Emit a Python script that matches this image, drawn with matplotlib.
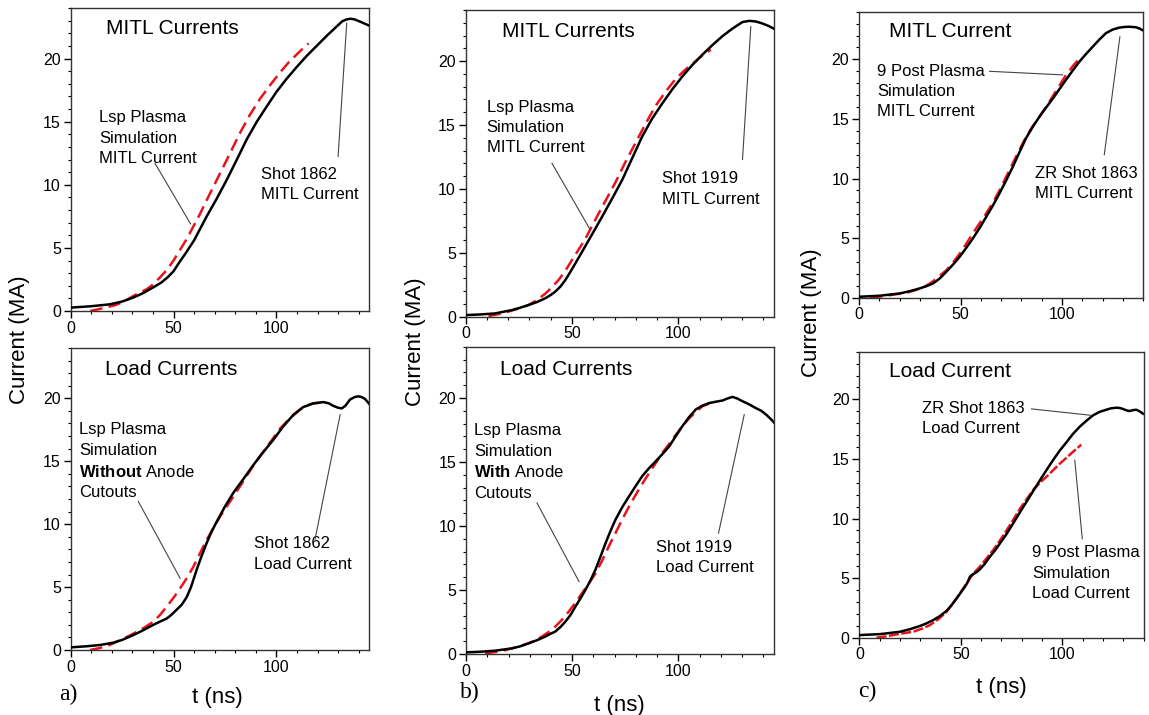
import matplotlib
matplotlib.use('Agg')
import matplotlib.pyplot as plt
from matplotlib.ticker import MultipleLocator

plt.rcParams['font.family'] = ['Liberation Sans', 'DejaVu Sans']
plt.rcParams['mathtext.fontset'] = 'custom'
plt.rcParams['mathtext.rm'] = 'Liberation Sans'
plt.rcParams['mathtext.bf'] = 'Liberation Sans:bold'

# a) top - MITL currents, shot 1862
a_mitl_shot_t = [0, 10, 19, 25, 30.5, 35, 40, 44, 47, 50, 53, 56, 60, 66, 71, 75.9, 80.8, 85.6, 90.5, 95.3, 100,
                 105, 110, 114.7, 119.6, 124.5, 129.4, 132, 134.2, 136, 138, 141, 145.2]
a_mitl_shot_i = [0.27, 0.38, 0.53, 0.75, 1.07, 1.4, 1.86, 2.25, 2.65, 3.15, 3.9, 4.6, 5.6, 7.46, 8.9, 10.4, 12.0,
                 13.6, 15.0, 16.2, 17.35, 18.4, 19.35, 20.2, 21.0, 21.8, 22.55, 22.95, 23.1, 23.15, 23.1, 22.9, 22.6]
a_mitl_sim_t = [9.5, 15, 22, 27, 30.5, 37, 40, 43.4, 47, 50, 56.4, 62.9, 67.7, 72.6, 77.5, 82.3, 87, 92, 97,
                101.8, 106, 111, 115.6]
a_mitl_sim_i = [0.0, 0.2, 0.48, 0.85, 1.2, 1.73, 2.1, 2.66, 3.3, 4.0, 5.7, 7.7, 9.3, 10.9, 12.5, 14.1, 15.5, 16.8,
                17.9, 18.9, 19.7, 20.5, 21.2]

# a) bottom - load currents, shot 1862
a_load_shot_t = [0, 8, 14.3, 20.7, 25, 30.5, 35, 40.2, 44, 46.7, 49, 51.5, 54, 56.4, 58.5, 61.3, 63.5, 66.1, 68.5,
                 71, 75, 79.1, 84, 88.8, 93.5, 98.5, 103, 108.3, 113, 118, 122.9, 125.5, 127.7, 130, 131.8, 133.5,
                 135.8, 138, 139.9, 141.5, 143.1, 145.2]
a_load_shot_i = [0.21, 0.3, 0.4, 0.58, 0.8, 1.19, 1.55, 2.0, 2.3, 2.5, 2.8, 3.2, 3.6, 4.2, 5.0, 6.4, 7.4, 8.5, 9.4,
                 10.2, 11.4, 12.5, 13.6, 14.7, 15.7, 16.7, 17.7, 18.7, 19.3, 19.6, 19.7, 19.6, 19.4, 19.25, 19.2,
                 19.4, 19.9, 20.1, 20.16, 20.1, 19.95, 19.55]
a_load_sim_t = [9.4, 14, 19, 25, 30.5, 35, 40.2, 43.5, 46.7, 50, 53.2, 56.4, 59.6, 62.9, 66.1, 69.4, 72.6, 77.5,
                82.3, 87, 92, 97, 101.8, 106.5, 111.5, 115, 118, 121, 123.7]
a_load_sim_i = [0.0, 0.15, 0.4, 0.85, 1.3, 1.7, 2.25, 2.8, 3.45, 4.15, 4.9, 5.7, 6.6, 7.7, 8.75, 9.7, 10.6, 11.8,
                13.0, 14.2, 15.4, 16.5, 17.6, 18.4, 19.1, 19.45, 19.6, 19.65, 19.6]

# b) top - MITL currents, shot 1919
b_mitl_shot_t = [0, 7, 13.8, 21.7, 25.5, 29.6, 33.5, 37.4, 40, 42.1, 44.5, 46.9, 49.2, 51.6, 54.8, 57.9, 61, 64.2,
                 68.9, 73.6, 78.3, 83, 87.7, 92.5, 97.2, 101.9, 106.6, 111.3, 116, 120.8, 125.5, 130.2, 133.4,
                 136.5, 139.5, 142.5, 145.4]
b_mitl_shot_i = [0.13, 0.18, 0.26, 0.52, 0.7, 0.92, 1.15, 1.44, 1.7, 1.96, 2.35, 2.88, 3.5, 4.18, 5.1, 6.0, 6.9,
                 7.84, 9.25, 10.7, 12.4, 14.1, 15.5, 16.7, 17.8, 18.8, 19.7, 20.5, 21.25, 21.96, 22.55, 23.06,
                 23.15, 23.1, 22.95, 22.75, 22.5]
b_mitl_sim_t = [10.7, 15.3, 20, 25, 29.6, 33.5, 37.4, 40.5, 43.7, 46.9, 50, 53.1, 56.3, 59.4, 62.6, 66.5, 70.4,
                75.1, 79.9, 84.6, 89.3, 94, 98.7, 103.4, 108.2, 111.7, 115.3]
b_mitl_sim_i = [0.05, 0.2, 0.4, 0.65, 0.92, 1.3, 1.8, 2.3, 2.88, 3.6, 4.44, 5.25, 6.1, 7.1, 8.1, 9.3, 10.5, 12.1,
                13.6, 15.1, 16.5, 17.6, 18.6, 19.35, 20.0, 20.5, 20.9]

# b) bottom - load currents, shot 1919
b_load_shot_t = [0, 7, 13.7, 21.6, 25.5, 29.4, 33.3, 37.3, 40, 42, 44.4, 46.8, 49.2, 51.5, 53.9, 56.2, 58.6, 60.9,
                 63.3, 65.7, 68, 70.4, 73.5, 76.7, 79.8, 83, 86.1, 89.3, 92.4, 95.6, 98.7, 101.9, 105, 108.2,
                 111.3, 114.5, 117.6, 120.8, 123, 125.5, 127.8, 130.2, 133.3, 136.5, 139, 141.3, 143.5, 145.5]
b_load_shot_i = [0.13, 0.18, 0.26, 0.44, 0.6, 0.83, 1.07, 1.36, 1.6, 1.75, 2.1, 2.53, 3.05, 3.7, 4.35, 5.0, 5.75,
                 6.57, 7.6, 8.66, 9.6, 10.5, 11.45, 12.3, 13.1, 13.9, 14.5, 15.05, 15.6, 16.2, 17.0, 17.8, 18.5,
                 19.1, 19.4, 19.6, 19.7, 19.8, 19.95, 20.08, 19.95, 19.74, 19.5, 19.2, 19.0, 18.7, 18.35, 18.0]
b_load_sim_t = [9, 13.7, 18.4, 24, 29.4, 32.5, 35.7, 38.9, 42, 45.2, 48.3, 51.5, 54.6, 57.8, 61, 64.1, 67.2, 70.4,
                73.5, 76.7, 79.8, 83, 86.1, 89.3, 92.4, 95.6, 98.7, 101.9, 105, 108.2, 111.3, 114.5, 117.6]
b_load_sim_i = [0.05, 0.15, 0.3, 0.55, 0.83, 1.07, 1.36, 1.72, 2.14, 2.68, 3.3, 4.0, 4.75, 5.5, 6.3, 7.3, 8.4,
                9.45, 10.5, 11.5, 12.4, 13.3, 14.1, 14.9, 15.7, 16.4, 17.1, 17.8, 18.4, 18.9, 19.35, 19.55, 19.7]

# c) top - MITL current, ZR shot 1863
c_mitl_shot_t = [0, 10.3, 20.1, 25, 29.9, 33.2, 36.5, 39.8, 43, 46.3, 49.6, 52.9, 56.1, 59.4, 62.7, 66, 69.2,
                 72.5, 75.8, 79, 82.3, 85.6, 88.9, 92.1, 95.4, 98.7, 102, 105.2, 108.5, 111.8, 115.1, 118.3,
                 121.6, 124.9, 128.1, 130.5, 133, 136.3, 138, 139.6]
c_mitl_shot_i = [0.08, 0.17, 0.36, 0.55, 0.78, 0.97, 1.2, 1.62, 2.18, 2.78, 3.44, 4.2, 4.98, 5.85, 6.8, 7.75,
                 8.76, 9.85, 11.0, 12.2, 13.4, 14.35, 15.2, 15.95, 16.7, 17.5, 18.3, 19.05, 19.8, 20.45, 21.06,
                 21.65, 22.2, 22.5, 22.66, 22.72, 22.74, 22.7, 22.6, 22.46]
c_mitl_sim_t = [5.4, 9.5, 13.6, 18.5, 23.4, 27.5, 31.6, 35, 38.1, 40.5, 43, 46.3, 49.6, 52.9, 56.1, 59.4, 62.7,
                66, 69.2, 72.5, 75.8, 79, 82.3, 85.6, 88.9, 92.1, 95.4, 98.7, 102, 105.6, 109.3]
c_mitl_sim_i = [0.0, 0.08, 0.17, 0.3, 0.42, 0.62, 0.87, 1.2, 1.6, 1.95, 2.3, 2.95, 3.7, 4.55, 5.4, 6.25, 7.08,
                8.0, 9.0, 10.15, 11.3, 12.4, 13.5, 14.4, 15.2, 16.0, 16.9, 17.8, 18.7, 19.5, 20.2]

# c) bottom - load current, ZR shot 1863
c_load_shot_t = [0, 10.2, 20, 25, 29.8, 33, 36.4, 39.7, 43, 45.5, 47.9, 50, 52, 53.5, 54.4, 55.3, 56.1, 57.7,
                 59.3, 61.8, 64.3, 66.7, 69.2, 72.5, 75.7, 79, 82.3, 85.6, 88.9, 92.1, 95.4, 98.7, 102, 105.2,
                 108.5, 111.8, 115.1, 118.3, 121.6, 124, 126.6, 128.2, 129.8, 131.5, 133.1, 134.8, 136.4, 138,
                 139.7]
c_load_shot_i = [0.22, 0.3, 0.5, 0.72, 0.98, 1.2, 1.48, 1.82, 2.26, 2.75, 3.3, 3.8, 4.27, 4.7, 5.1, 5.25, 5.34,
                 5.5, 5.73, 6.2, 6.8, 7.3, 7.9, 8.7, 9.58, 10.5, 11.4, 12.3, 13.2, 14.05, 14.9, 15.7, 16.4, 17.1,
                 17.7, 18.2, 18.66, 18.95, 19.13, 19.25, 19.3, 19.28, 19.2, 19.08, 19.02, 19.1, 19.13, 19.0, 18.8]
c_load_sim_t = [8.5, 13.5, 18.4, 22.5, 26.6, 30.7, 34.8, 38.9, 43, 46.2, 49.5, 52, 54.4, 56.8, 59.3, 62.6, 65.9,
                69.2, 72.5, 75.8, 79, 82.3, 85.6, 88.9, 92.1, 95.4, 98.7, 102, 105.2, 109.3]
c_load_sim_i = [0.0, 0.12, 0.28, 0.4, 0.5, 0.75, 1.06, 1.55, 2.18, 2.9, 3.7, 4.35, 4.97, 5.5, 5.95, 6.65, 7.35,
                8.15, 9.0, 9.9, 10.8, 11.6, 12.4, 13.0, 13.5, 14.05, 14.6, 15.1, 15.6, 16.2]


def draw_panel(ax, shot_t, shot_i, sim_t, sim_i, xmax, title, title_xy, sim_dashes=(5, 2.5)):
    ax.plot(shot_t, shot_i, color='black', lw=1.8, zorder=3)
    ax.plot(sim_t, sim_i, color='#e8141b', lw=1.8, dashes=sim_dashes, zorder=2)
    ax.set_xlim(0, xmax)
    ax.set_ylim(0, 24)
    ax.xaxis.set_major_locator(MultipleLocator(50))
    ax.xaxis.set_minor_locator(MultipleLocator(10))
    ax.yaxis.set_major_locator(MultipleLocator(5))
    ax.yaxis.set_minor_locator(MultipleLocator(1))
    ax.tick_params(which='major', direction='out', length=5, width=1, labelsize=11.5, pad=2)
    ax.tick_params(which='minor', direction='out', length=2.5, width=0.8)
    for s in ax.spines.values():
        s.set_linewidth(1.0)
        s.set_color('#333333')
    ax.text(title_xy[0], title_xy[1], title, fontsize=15, va='center', ha='left')


def note(ax, text, xy, line_from, line_to):
    # label text block plus thin leader line
    ax.text(xy[0], xy[1], text, fontsize=12, va='center', ha='left', linespacing=1.45)
    ax.plot([line_from[0], line_to[0]], [line_from[1], line_to[1]], color='#444444', lw=0.8, zorder=4)


fig = plt.figure(figsize=(11.49, 7.15), dpi=100)

ax_a1 = fig.add_axes([0.0615, 0.565, 0.2596, 0.4238])
ax_a2 = fig.add_axes([0.0615, 0.0909, 0.2596, 0.4224])
ax_b1 = fig.add_axes([0.4053, 0.557, 0.2683, 0.429])
ax_b2 = fig.add_axes([0.4056, 0.0853, 0.2680, 0.4298])
ax_c1 = fig.add_axes([0.7476, 0.5836, 0.2474, 0.400])
ax_c2 = fig.add_axes([0.7479, 0.1081, 0.2474, 0.400])

# panel a
draw_panel(ax_a1, a_mitl_shot_t, a_mitl_shot_i, a_mitl_sim_t, a_mitl_sim_i, 145, 'MITL Currents', (17.2, 22.4))
note(ax_a1, 'Lsp Plasma\nSimulation\nMITL Current', (13.9, 13.7), (41, 11.7), (58.3, 6.9))
note(ax_a1, 'Shot 1862\nMITL Current', (92.5, 10.0), (130, 12.25), (134.2, 22.8))

draw_panel(ax_a2, a_load_shot_t, a_load_shot_i, a_load_sim_t, a_load_sim_i, 145, 'Load Currents', (16.7, 22.3))
note(ax_a2, 'Lsp Plasma\nSimulation\n$\\bf{Without}$ Anode\nCutouts', (4.1, 15.0), (32.9, 11.8), (53.2, 5.7))
note(ax_a2, 'Shot 1862\nLoad Current', (89.1, 7.64), (118.8, 8.8), (131, 18.7))

# panel b
draw_panel(ax_b1, b_mitl_shot_t, b_mitl_shot_i, b_mitl_sim_t, b_mitl_sim_i, 145, 'MITL Currents', (17.3, 22.35))
note(ax_b1, 'Lsp Plasma\nSimulation\nMITL Current', (9.9, 14.8), (40.6, 12.0), (58.6, 6.8))
note(ax_b1, 'Shot 1919\nMITL Current', (92.5, 10.0), (130.2, 12.3), (134.1, 22.7))

draw_panel(ax_b2, b_load_shot_t, b_load_shot_i, b_load_sim_t, b_load_sim_i, 145, 'Load Currents', (16.2, 22.2))
note(ax_b2, 'Lsp Plasma\nSimulation\n$\\bf{With}$ Anode\nCutouts', (3.9, 15.0), (33.4, 11.8), (53.2, 5.66))
note(ax_b2, 'Shot 1919\nLoad Current', (89.3, 7.56), (118.9, 9.44), (131, 18.7))

# panel c
draw_panel(ax_c1, c_mitl_shot_t, c_mitl_shot_i, c_mitl_sim_t, c_mitl_sim_i, 140, 'MITL Current', (14.9, 22.3))
note(ax_c1, '9 Post Plasma\nSimulation\nMITL Current', (9.0, 17.3), (64.3, 19.0), (100.3, 18.7))
note(ax_c1, 'ZR Shot 1863\nMITL Current', (86.9, 9.57), (120.8, 12.0), (128.5, 21.9))

draw_panel(ax_c2, c_load_shot_t, c_load_shot_i, c_load_sim_t, c_load_sim_i, 140, 'Load Current', (14.4, 22.3),
           sim_dashes=(4, 1))
note(ax_c2, 'ZR Shot 1863\nLoad Current', (31.1, 18.4), (84.8, 19.2), (114.3, 18.66))
note(ax_c2, '9 Post Plasma\nSimulation\nLoad Current', (85.1, 5.4), (109.8, 8.3), (106.1, 14.9))

# axis labels placed in figure coords
fig.text(20 / 1149, 1 - 340 / 715, 'Current (MA)', rotation=90, fontsize=16, ha='center', va='center')
fig.text(416 / 1149, 1 - 342 / 715, 'Current (MA)', rotation=90, fontsize=16, ha='center', va='center')
fig.text(811 / 1149, 1 - 313 / 715, 'Current (MA)', rotation=90, fontsize=16, ha='center', va='center')
fig.text(217 / 1149, 1 - 698 / 715, 't (ns)', fontsize=16, ha='center', va='center')
fig.text(619 / 1149, 1 - 705 / 715, 't (ns)', fontsize=16, ha='center', va='center')
fig.text(1001 / 1149, 1 - 688 / 715, 't (ns)', fontsize=16, ha='center', va='center')

fig.text(68 / 1149, 1 - 694 / 715, 'a)', fontsize=17, family='Liberation Serif', ha='center', va='center')
fig.text(470 / 1149, 1 - 692 / 715, 'b)', fontsize=17, family='Liberation Serif', ha='center', va='center')
fig.text(867 / 1149, 1 - 691 / 715, 'c)', fontsize=17, family='Liberation Serif', ha='center', va='center')

fig.savefig('out.png', dpi=100)
